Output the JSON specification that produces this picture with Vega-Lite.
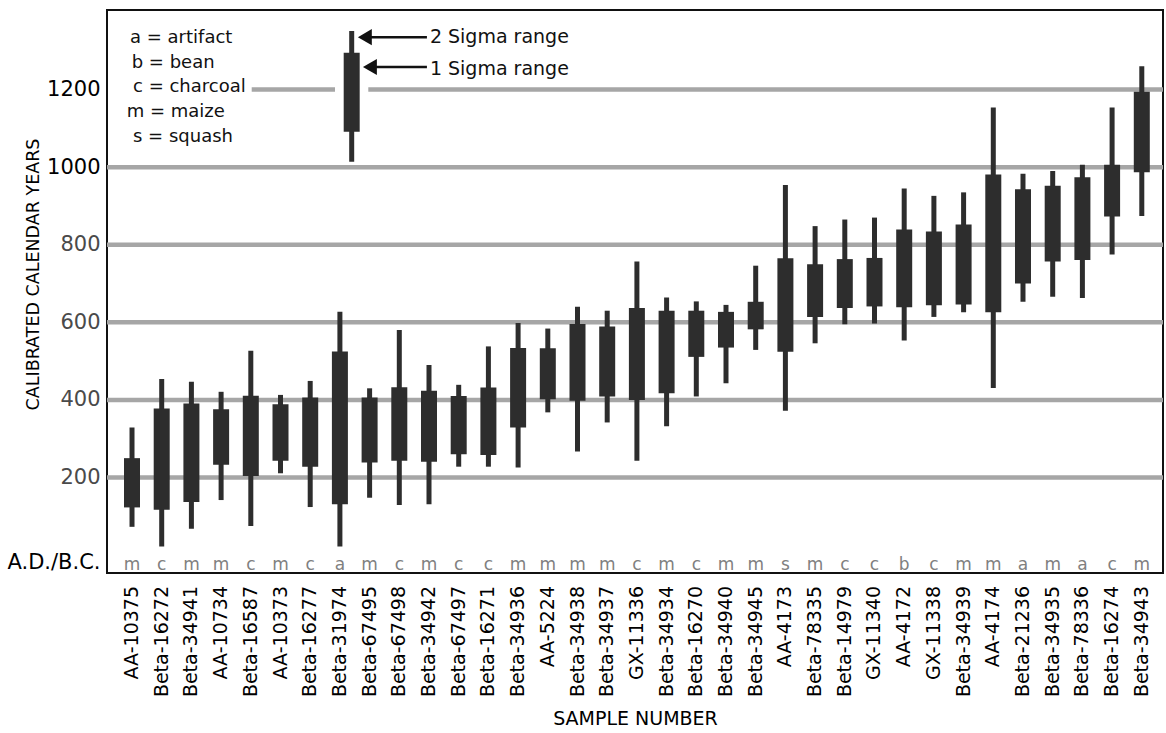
{
  "$schema": "https://vega.github.io/schema/vega-lite/v6.json",
  "width": 1056,
  "height": 563,
  "autosize": {"type": "none"},
  "padding": {"left": 107, "top": 10, "right": 3, "bottom": 160},
  "background": "white",
  "config": {
    "view": {"stroke": "#111111", "strokeWidth": 2},
    "font": "DejaVu Sans",
    "text": {"font": "DejaVu Sans"},
    "axis": {"labelOverlap": false, "labelBound": false, "labelFlush": false}
  },
  "datasets": {
    "samples": [
      {"idx": 0, "sample": "AA-10375", "type": "m", "lo2": 73, "lo1": 123, "hi1": 250, "hi2": 329},
      {"idx": 1, "sample": "Beta-16272", "type": "c", "lo2": 22, "lo1": 117, "hi1": 378, "hi2": 454},
      {"idx": 2, "sample": "Beta-34941", "type": "m", "lo2": 68, "lo1": 137, "hi1": 391, "hi2": 447},
      {"idx": 3, "sample": "AA-10734", "type": "m", "lo2": 142, "lo1": 233, "hi1": 376, "hi2": 421},
      {"idx": 4, "sample": "Beta-16587", "type": "c", "lo2": 75, "lo1": 204, "hi1": 411, "hi2": 527},
      {"idx": 5, "sample": "AA-10373", "type": "m", "lo2": 211, "lo1": 243, "hi1": 389, "hi2": 413},
      {"idx": 6, "sample": "Beta-16277", "type": "c", "lo2": 124, "lo1": 228, "hi1": 406, "hi2": 449},
      {"idx": 7, "sample": "Beta-31974", "type": "a", "lo2": 22, "lo1": 131, "hi1": 525, "hi2": 627},
      {"idx": 8, "sample": "Beta-67495", "type": "m", "lo2": 148, "lo1": 239, "hi1": 406, "hi2": 430},
      {"idx": 9, "sample": "Beta-67498", "type": "c", "lo2": 129, "lo1": 243, "hi1": 433, "hi2": 580},
      {"idx": 10, "sample": "Beta-34942", "type": "m", "lo2": 131, "lo1": 241, "hi1": 424, "hi2": 490},
      {"idx": 11, "sample": "Beta-67497", "type": "c", "lo2": 228, "lo1": 260, "hi1": 410, "hi2": 439},
      {"idx": 12, "sample": "Beta-16271", "type": "c", "lo2": 228, "lo1": 258, "hi1": 432, "hi2": 538},
      {"idx": 13, "sample": "Beta-34936", "type": "m", "lo2": 226, "lo1": 329, "hi1": 534, "hi2": 598},
      {"idx": 14, "sample": "AA-5224", "type": "m", "lo2": 368, "lo1": 402, "hi1": 533, "hi2": 584},
      {"idx": 15, "sample": "Beta-34938", "type": "m", "lo2": 267, "lo1": 398, "hi1": 596, "hi2": 640},
      {"idx": 16, "sample": "Beta-34937", "type": "m", "lo2": 342, "lo1": 409, "hi1": 589, "hi2": 630},
      {"idx": 17, "sample": "GX-11336", "type": "c", "lo2": 243, "lo1": 400, "hi1": 637, "hi2": 757},
      {"idx": 18, "sample": "Beta-34934", "type": "m", "lo2": 332, "lo1": 417, "hi1": 630, "hi2": 664},
      {"idx": 19, "sample": "Beta-16270", "type": "c", "lo2": 409, "lo1": 511, "hi1": 630, "hi2": 654},
      {"idx": 20, "sample": "Beta-34940", "type": "m", "lo2": 443, "lo1": 535, "hi1": 627, "hi2": 645},
      {"idx": 21, "sample": "Beta-34945", "type": "m", "lo2": 529, "lo1": 582, "hi1": 653, "hi2": 746},
      {"idx": 22, "sample": "AA-4173", "type": "s", "lo2": 372, "lo1": 524, "hi1": 765, "hi2": 954},
      {"idx": 23, "sample": "Beta-78335", "type": "m", "lo2": 546, "lo1": 614, "hi1": 750, "hi2": 848},
      {"idx": 24, "sample": "Beta-14979", "type": "c", "lo2": 595, "lo1": 637, "hi1": 763, "hi2": 865},
      {"idx": 25, "sample": "GX-11340", "type": "c", "lo2": 597, "lo1": 641, "hi1": 766, "hi2": 870},
      {"idx": 26, "sample": "AA-4172", "type": "b", "lo2": 553, "lo1": 639, "hi1": 839, "hi2": 945},
      {"idx": 27, "sample": "GX-11338", "type": "c", "lo2": 614, "lo1": 644, "hi1": 834, "hi2": 926},
      {"idx": 28, "sample": "Beta-34939", "type": "m", "lo2": 626, "lo1": 646, "hi1": 852, "hi2": 935},
      {"idx": 29, "sample": "AA-4174", "type": "m", "lo2": 431, "lo1": 626, "hi1": 981, "hi2": 1154},
      {"idx": 30, "sample": "Beta-21236", "type": "a", "lo2": 653, "lo1": 700, "hi1": 943, "hi2": 983},
      {"idx": 31, "sample": "Beta-34935", "type": "m", "lo2": 666, "lo1": 757, "hi1": 952, "hi2": 990},
      {"idx": 32, "sample": "Beta-78336", "type": "a", "lo2": 663, "lo1": 761, "hi1": 974, "hi2": 1006},
      {"idx": 33, "sample": "Beta-16274", "type": "c", "lo2": 775, "lo1": 873, "hi1": 1006, "hi2": 1154},
      {"idx": 34, "sample": "Beta-34943", "type": "m", "lo2": 874, "lo1": 987, "hi1": 1194, "hi2": 1260}
    ],
    "grid": [
      {"v": 200, "a": -0.842, "b": 34.714},
      {"v": 400, "a": -0.842, "b": 34.714},
      {"v": 600, "a": -0.842, "b": 34.714},
      {"v": 800, "a": -0.842, "b": 34.714},
      {"v": 1000, "a": -0.842, "b": 34.714},
      {"v": 1200, "a": 4.03, "b": 6.835},
      {"v": 1200, "a": 7.956, "b": 34.714}
    ],
    "legendBar": [
      {"idx": 7.397, "lo2": 1014, "lo1": 1091, "hi1": 1295, "hi2": 1351}
    ],
    "arrows": [
      {"label": "2 Sigma range", "tip": 7.84, "end": 9.93, "tx": 10.03, "y": 1335, "ty": 1319},
      {"label": "1 Sigma range", "tip": 8.01, "end": 9.93, "tx": 10.03, "y": 1258, "ty": 1237}
    ],
    "key": [
      {"t": "a = artifact", "idx": -0.067, "y": 1319},
      {"t": "b = bean", "idx": -0.01, "y": 1254.6},
      {"t": "c = charcoal", "idx": 0.034, "y": 1192.8},
      {"t": "m = maize", "idx": -0.178, "y": 1130},
      {"t": "s = squash", "idx": 0.034, "y": 1065.6}
    ]
  },
  "layer": [
    {
      "data": {"name": "grid"},
      "mark": {"type": "rule", "color": "#a6a6a6", "strokeWidth": 4.5},
      "encoding": {
        "x": {
          "field": "a",
          "type": "quantitative",
          "scale": {"domain": [-0.842, 34.714], "nice": false, "zero": false},
          "axis": {
            "labels": false,
            "ticks": false,
            "domain": false,
            "grid": false,
            "title": "SAMPLE NUMBER",
            "titleFontSize": 19,
            "titleFontWeight": "normal",
            "titleColor": "#000000",
            "titleY": 145,
            "titleBaseline": "middle"
          }
        },
        "x2": {"field": "b"},
        "y": {
          "field": "v",
          "type": "quantitative",
          "scale": {"domain": [-46, 1405], "nice": false, "zero": false},
          "axis": {
            "values": [-18, 200, 400, 600, 800, 1000, 1200],
            "format": "d",
            "labelExpr": "datum.value < 0 ? 'A.D./B.C.' : datum.label",
            "grid": false,
            "ticks": false,
            "domain": false,
            "labelFontSize": 21,
            "labelPadding": 7,
            "labelColor": {"condition": {"test": "datum.value >= 1000 || datum.value < 0", "value": "#000000"}, "value": "#4a4a4a"},
            "title": "CALIBRATED CALENDAR YEARS",
            "titleFontSize": 17.5,
            "titleFontWeight": "normal",
            "titleColor": "#000000",
            "titleX": -74,
            "titleY": 264,
            "titleBaseline": "middle"
          }
        }
      }
    },
    {
      "data": {"name": "samples"},
      "mark": {"type": "rule", "color": "#2d2d2d", "strokeWidth": 5},
      "encoding": {
        "x": {"field": "idx", "type": "quantitative"},
        "y": {"field": "lo2", "type": "quantitative"},
        "y2": {"field": "hi2"}
      }
    },
    {
      "data": {"name": "samples"},
      "mark": {"type": "rule", "color": "#2d2d2d", "strokeWidth": 16, "strokeCap": "butt"},
      "encoding": {
        "x": {"field": "idx", "type": "quantitative"},
        "y": {"field": "lo1", "type": "quantitative"},
        "y2": {"field": "hi1"}
      }
    },
    {
      "data": {"name": "samples"},
      "mark": {"type": "text", "color": "#808080", "fontSize": 17, "baseline": "middle"},
      "encoding": {
        "x": {"field": "idx", "type": "quantitative"},
        "y": {"datum": -25, "type": "quantitative"},
        "text": {"field": "type"}
      }
    },
    {
      "data": {"name": "samples"},
      "mark": {"type": "text", "color": "#000000", "fontSize": 19, "angle": 270, "align": "right", "baseline": "middle", "clip": false},
      "encoding": {
        "x": {"field": "idx", "type": "quantitative"},
        "y": {"datum": -79.5, "type": "quantitative"},
        "text": {"field": "sample"}
      }
    },
    {
      "data": {"name": "legendBar"},
      "mark": {"type": "rule", "color": "#2d2d2d", "strokeWidth": 5},
      "encoding": {
        "x": {"field": "idx", "type": "quantitative"},
        "y": {"field": "lo2", "type": "quantitative"},
        "y2": {"field": "hi2"}
      }
    },
    {
      "data": {"name": "legendBar"},
      "mark": {"type": "rule", "color": "#2d2d2d", "strokeWidth": 16, "strokeCap": "butt"},
      "encoding": {
        "x": {"field": "idx", "type": "quantitative"},
        "y": {"field": "lo1", "type": "quantitative"},
        "y2": {"field": "hi1"}
      }
    },
    {
      "data": {"name": "arrows"},
      "mark": {"type": "rule", "color": "#111111", "strokeWidth": 2.5},
      "encoding": {
        "x": {"field": "tip", "type": "quantitative"},
        "x2": {"field": "end"},
        "y": {"field": "y", "type": "quantitative"}
      }
    },
    {
      "data": {"name": "arrows"},
      "mark": {"type": "point", "shape": "triangle-left", "filled": true, "size": 260, "color": "#111111", "opacity": 1},
      "encoding": {
        "x": {"field": "tip", "type": "quantitative"},
        "y": {"field": "y", "type": "quantitative"}
      }
    },
    {
      "data": {"name": "arrows"},
      "mark": {"type": "text", "align": "left", "baseline": "alphabetic", "fontSize": 19, "color": "#111111"},
      "encoding": {
        "x": {"field": "tx", "type": "quantitative"},
        "y": {"field": "ty", "type": "quantitative"},
        "text": {"field": "label"}
      }
    },
    {
      "data": {"name": "key"},
      "mark": {"type": "text", "align": "left", "baseline": "alphabetic", "fontSize": 18, "color": "#111111"},
      "encoding": {
        "x": {"field": "idx", "type": "quantitative"},
        "y": {"field": "y", "type": "quantitative"},
        "text": {"field": "t"}
      }
    }
  ]
}
